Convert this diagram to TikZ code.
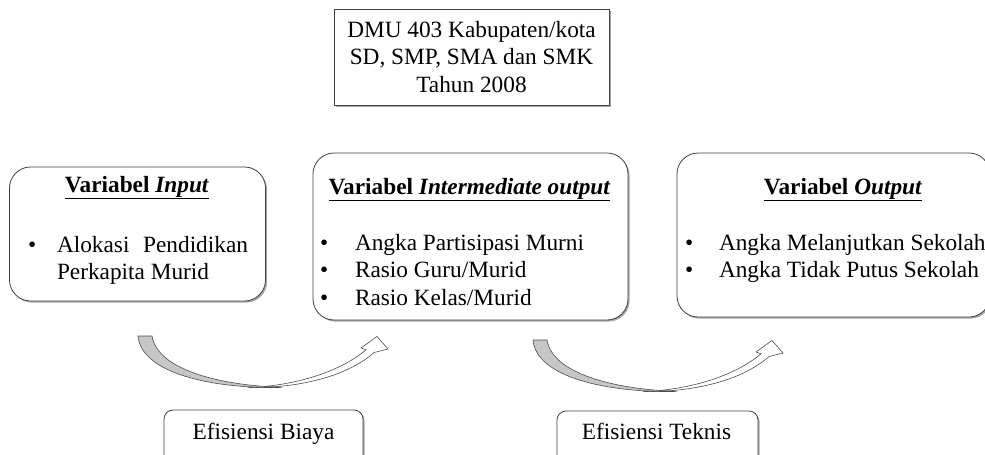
\documentclass[tikz,border=0pt]{standalone}
\usepackage{fontspec}
\setmainfont{Liberation Serif}
\usetikzlibrary{shadows}

\tikzset{
  boxshadow/.style={drop shadow={shadow xshift=1.6pt, shadow yshift=-1.6pt, opacity=0.35, fill=black}},
  plainbox/.style={draw=black!75, line width=0.8pt, fill=white, inner sep=0pt, outer sep=0pt, boxshadow},
  roundbox/.style={plainbox, rounded corners=21pt},
  tagbox/.style={plainbox, rounded corners=9pt},
  txt/.style={inner sep=0pt, outer sep=0pt, anchor=base, font=\fontsize{23.3}{27.5}\selectfont},
  ltxt/.style={txt, anchor=base west},
  bandfill/.style={draw=black!70, line width=0.6pt, fill=black!22},
  bandline/.style={draw=black!70, line width=0.6pt, fill=white},
}

\newcommand{\vtitle}[1]{\underline{\textbf{Variabel \textit{#1}}}}

\begin{document}
\begin{tikzpicture}[x=1pt, y=-1pt]
  \useasboundingbox (0,0) rectangle (985,455);
  \clip (0,0) rectangle (985,455);

  % top box: decision making units
  \node[plainbox, minimum width=275pt, minimum height=96pt] (dmu) at (471.5,57) {};
  \node[txt] (dmu1) at (471.5,37) {DMU 403 Kabupaten/kota};
  \node[txt] (dmu2) at (471.5,64.5) {SD, SMP, SMA dan SMK};
  \node[txt] (dmu3) at (471.5,92) {Tahun 2008};

  % input variables
  \node[roundbox, minimum width=256pt, minimum height=134pt] (inp) at (137.5,234) {};
  \node[txt] (inpT) at (137,192) {\vtitle{Input}};
  \node[ltxt] (inpB) at (28,252) {•};
  \node[ltxt] (inp1) at (57,252) {\makebox[191pt][s]{Alokasi Pendidikan}};
  \node[ltxt] (inp2) at (57,279) {Perkapita Murid};

  % intermediate output variables
  \node[roundbox, minimum width=315pt, minimum height=167pt] (mid) at (470.5,236.5) {};
  \node[txt] (midT) at (469.5,194) {\vtitle{Intermediate output}};
  \node[ltxt] (midB1) at (320,250) {•};
  \node[ltxt] (midB2) at (320,277.5) {•};
  \node[ltxt] (midB3) at (320,305) {•};
  \node[ltxt] (mid1) at (355,250) {Angka Partisipasi Murni};
  \node[ltxt] (mid2) at (355,277.5) {Rasio Guru/Murid};
  \node[ltxt] (mid3) at (355,305) {Rasio Kelas/Murid};

  % output variables
  \node[roundbox, minimum width=313pt, minimum height=164pt] (out) at (833.5,235) {};
  \node[txt] (outT) at (843,194) {\vtitle{Output}};
  \node[ltxt] (outB1) at (685,250) {•};
  \node[ltxt] (outB2) at (685,277) {•};
  \node[ltxt] (out1) at (719,250) {Angka Melanjutkan Sekolah};
  \node[ltxt] (out2) at (719,277) {Angka Tidak Putus Sekolah};

  % efficiency labels
  \node[tagbox, minimum width=199pt, minimum height=60pt] (biaya) at (263.5,440) {};
  \node[txt] (biayaT) at (263.5,439) {Efisiensi Biaya};
  \node[tagbox, minimum width=201pt, minimum height=60pt] (teknis) at (657.5,441) {};
  \node[txt] (teknisT) at (656.5,439) {Efisiensi Teknis};

  % curved block arrows, the second one is a shifted copy of the first
  \foreach \dx/\dy in {0/0, 395/4} {
    \begin{scope}[shift={(\dx,\dy)}]
      \path[bandline] (248,387.6) .. controls (305,388.2) and (350,374) .. (374,352.5)
        -- (388,349) -- (377,336.5) -- (361,348) -- (366,349.8)
        .. controls (342,370) and (300,385.5) .. (248,387.6) -- cycle;
      \path[bandfill] (138,336) .. controls (141,373) and (212,389) .. (282,387.4)
        .. controls (214,385) and (157,368) .. (152,336) -- cycle;
    \end{scope}
  }
\end{tikzpicture}
\end{document}
